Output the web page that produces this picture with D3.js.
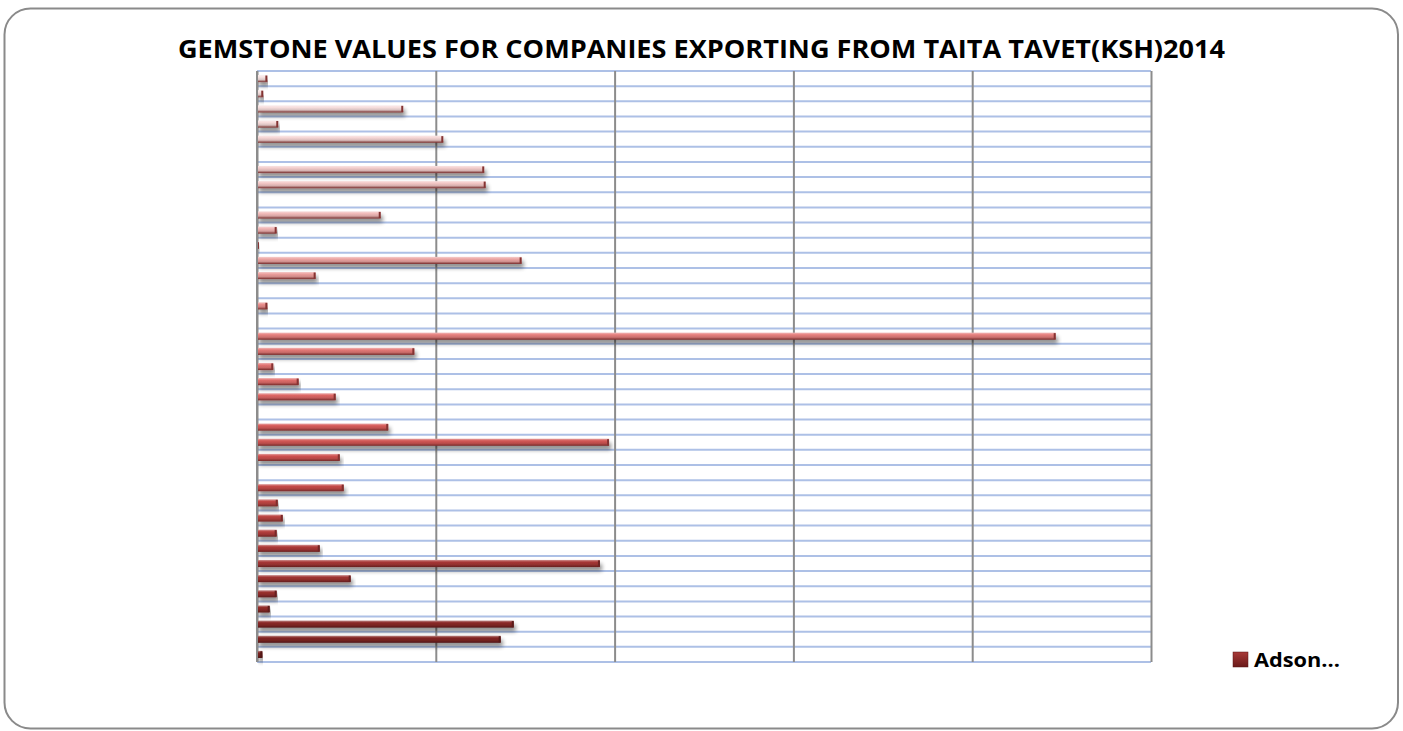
<!DOCTYPE html>
<html>
<head>
<meta charset="utf-8">
<script src="https://cdn.jsdelivr.net/npm/d3@7"></script>
<style>
  html, body { margin: 0; padding: 0; background: #ffffff; }
  svg { display: block; }
</style>
</head>
<body>
<svg id="chart" width="1403" height="731"></svg>
<script>
// ---- data (first category is drawn at the bottom, as in the source) ----
const title = "GEMSTONE VALUES FOR COMPANIES EXPORTING FROM TAITA TAVET(KSH)2014";
const categories = [
  "Adson", "Company 2", "Company 3", "Company 4", "Company 5", "Company 6", "Company 7",
  "Company 8", "Company 9", "Company 10", "Company 11", "Company 12", "Company 13",
  "Company 14", "Company 15", "Company 16", "Company 17", "Company 18", "Company 19",
  "Company 20", "Company 21", "Company 22", "Company 23", "Company 24", "Company 25",
  "Company 26", "Company 27", "Company 28", "Company 29", "Company 30", "Company 31",
  "Company 32", "Company 33", "Company 34", "Company 35", "Company 36", "Company 37",
  "Company 38", "Company 39"
];
const values = [
  3.0, 136.3, 143.6, 7.1, 11.0, 52.4, 191.8, 35.1, 11.0, 14.4,
  11.6, 48.5, 0.3, 46.3, 196.9, 73.4, 0, 44.0, 23.3, 9.1,
  88.0, 446.7, 0, 5.8, 0.5, 32.8, 148.0, 1.1, 11.0, 69.2,
  0.3, 127.9, 127.1, 0, 104.2, 11.9, 81.8, 3.5, 5.8
];
const xTicks = [0, 100, 200, 300, 400, 500];
const legendLabels = ["Adson..."];

// ---- layout ----
const svg = d3.select("#chart");
const W = 1403, H = 731;
const plot = { left: 257, right: 1151, top: 71, bottom: 662 };

const x = d3.scaleLinear().domain([0, 500]).range([plot.left, plot.right]);
const y = d3.scaleBand().domain(categories).range([plot.bottom, plot.top]).paddingInner(0.53).paddingOuter(0.265);
const yGrid = d3.scaleBand().domain(categories).range([plot.bottom, plot.top]).padding(0);

const colorScale = d3.scaleSequential()
  .domain([0, categories.length - 1])
  .interpolator(d3.interpolateRgbBasis(["#7c2220", "#b43c3a", "#dc5a58", "#e98a88", "#f3c9c8", "#f7e4e3"]));

const defs = svg.append("defs");
const shadow = defs.append("filter").attr("id", "shadow")
  .attr("x", "-5%").attr("y", "-100%").attr("width", "110%").attr("height", "400%");
shadow.append("feGaussianBlur").attr("in", "SourceAlpha").attr("stdDeviation", 2).attr("result", "b");
shadow.append("feOffset").attr("in", "b").attr("dx", 2).attr("dy", 4).attr("result", "o");
shadow.append("feComponentTransfer").attr("in", "o").attr("result", "s")
  .append("feFuncA").attr("type", "linear").attr("slope", 0.45);
const merge = shadow.append("feMerge");
merge.append("feMergeNode").attr("in", "s");
merge.append("feMergeNode").attr("in", "SourceGraphic");

categories.forEach((c, i) => {
  const base = d3.color(colorScale(i));
  const g = defs.append("linearGradient").attr("id", "g" + i)
    .attr("x1", 0).attr("y1", 0).attr("x2", 0).attr("y2", 1);
  g.append("stop").attr("offset", "0%").attr("stop-color", d3.interpolateRgb(base, "#ffffff")(0.45));
  g.append("stop").attr("offset", "30%").attr("stop-color", base.formatHex());
  g.append("stop").attr("offset", "65%").attr("stop-color", base.darker(0.35).formatHex());
  g.append("stop").attr("offset", "100%").attr("stop-color", d3.color(colorScale(Math.min(i, 10))).darker(1.4).formatHex());
});

// frame
svg.append("rect")
  .attr("x", 4.5).attr("y", 8.5).attr("width", W - 9.5).attr("height", H - 11)
  .attr("rx", 26).attr("ry", 26)
  .attr("fill", "#ffffff").attr("stroke", "#8a8a8a").attr("stroke-width", 2);

// title
svg.append("text")
  .attr("x", (178 + 1225) / 2).attr("y", 58)
  .attr("text-anchor", "middle")
  .attr("font-family", "'Open Sans', 'Liberation Sans', sans-serif")
  .attr("font-weight", "bold").attr("font-size", 25)
  .attr("textLength", 1047).attr("lengthAdjust", "spacingAndGlyphs")
  .attr("fill", "#000000")
  .text(title);

// horizontal gridlines (category band boundaries)
const hLines = categories.map(c => yGrid(c)).concat([plot.bottom]);
svg.append("g").selectAll("line").data(hLines).join("line")
  .attr("x1", plot.left).attr("x2", plot.right)
  .attr("y1", d => d).attr("y2", d => d)
  .attr("stroke", "#adc0e6").attr("stroke-width", 2);

// vertical gridlines from the value axis
const xAxis = d3.axisBottom(x).tickValues(xTicks).tickSize(-(plot.bottom - plot.top)).tickFormat("");
const gx = svg.append("g").attr("transform", `translate(0,${plot.bottom})`).call(xAxis);
gx.select(".domain").remove();
gx.selectAll(".tick line").attr("stroke", "#8c8c8c").attr("stroke-width", 2);

// bars
const bars = svg.append("g");
bars.selectAll("rect.bar").data(values).join("rect")
  .attr("class", "bar")
  .attr("x", x(0))
  .attr("y", (d, i) => y(categories[i]))
  .attr("width", d => Math.max(0, x(d) - x(0)))
  .attr("height", y.bandwidth())
  .attr("fill", (d, i) => `url(#g${i})`)
  .attr("filter", d => d > 0 ? "url(#shadow)" : null);

// end caps for a bevelled look
bars.selectAll("rect.cap").data(values).join("rect")
  .attr("class", "cap")
  .attr("x", d => Math.max(x(0), x(d) - 2))
  .attr("y", (d, i) => y(categories[i]) + 0.5)
  .attr("width", d => Math.min(2, Math.max(0, x(d) - x(0))))
  .attr("height", y.bandwidth() - 1)
  .attr("fill", (d, i) => d3.color(colorScale(Math.min(i, 12))).darker(1.2).formatHex());

// category axis line
svg.append("line")
  .attr("x1", plot.left).attr("x2", plot.left)
  .attr("y1", plot.top).attr("y2", plot.bottom)
  .attr("stroke", "#8c8c8c").attr("stroke-width", 2);

// legend
const lg = svg.append("g").attr("transform", "translate(1233,652)");
const lgGrad = defs.append("linearGradient").attr("id", "lgGrad").attr("x1", 0).attr("y1", 0).attr("x2", 0).attr("y2", 1);
lgGrad.append("stop").attr("offset", "0%").attr("stop-color", "#a83a38");
lgGrad.append("stop").attr("offset", "100%").attr("stop-color", "#6a1a19");
lg.selectAll("rect").data(legendLabels).join("rect")
  .attr("x", 0).attr("y", 0).attr("width", 15).attr("height", 15)
  .attr("fill", "url(#lgGrad)").attr("stroke", "#5a1615").attr("stroke-width", 0.5);
lg.selectAll("text").data(legendLabels).join("text")
  .attr("x", 21).attr("y", 15)
  .attr("font-family", "'Open Sans', 'Liberation Sans', sans-serif")
  .attr("font-weight", "bold").attr("font-size", 20)
  .attr("textLength", 86).attr("lengthAdjust", "spacingAndGlyphs")
  .attr("fill", "#000000")
  .text(d => d);
</script>
</body>
</html>
